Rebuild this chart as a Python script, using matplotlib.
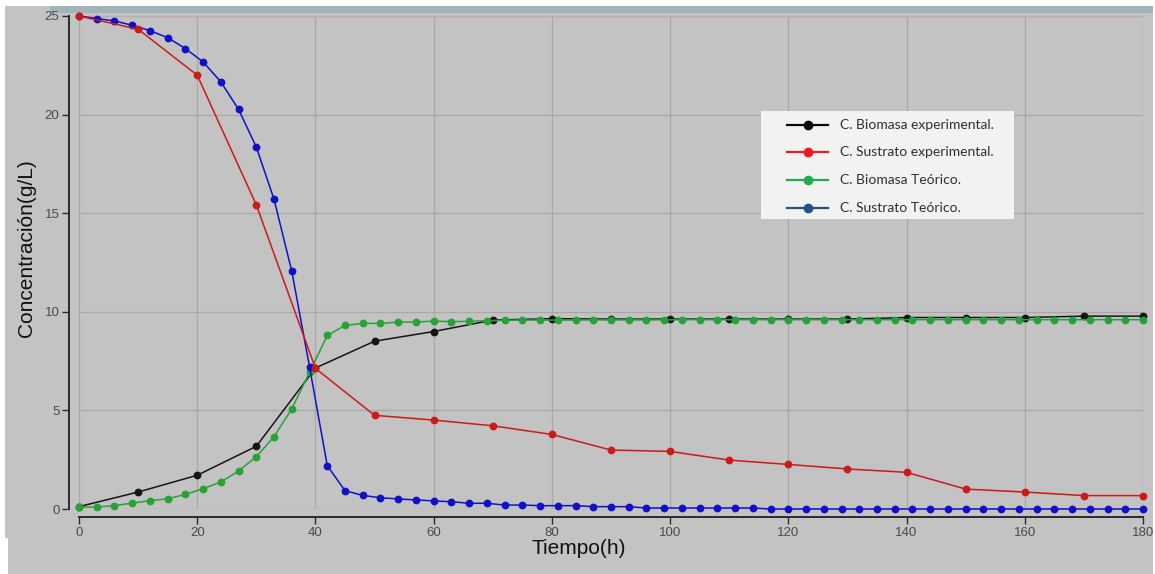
import matplotlib
matplotlib.use("Agg")
import matplotlib.pyplot as plt
from matplotlib.lines import Line2D
from matplotlib.patches import Rectangle

# experimental samples, every 10 h
t_exp = [0, 10, 20, 30, 40, 50, 60, 70, 80, 90, 100, 110, 120, 130, 140, 150, 160, 170, 180]
biomasa_exp = [0.12, 0.86, 1.71, 3.18, 7.15, 8.51, 9.0, 9.58, 9.65, 9.63, 9.63, 9.63, 9.63, 9.63,
               9.71, 9.71, 9.71, 9.78, 9.78]
sustrato_exp = [25.0, 24.33, 22.0, 15.42, 7.13, 4.75, 4.51, 4.22, 3.78, 2.99, 2.92, 2.48, 2.26, 2.03,
                1.86, 1.01, 0.86, 0.68, 0.68]

# model output, every 3 h
t_mod = list(range(0, 181, 3))
biomasa_mod = [0.10, 0.10, 0.17, 0.30, 0.42, 0.52, 0.74, 1.03, 1.37, 1.93, 2.65, 3.67, 5.08, 6.93,
               8.80, 9.31, 9.41, 9.41, 9.48, 9.48, 9.53, 9.50, 9.52, 9.55, 9.57, 9.58, 9.58, 9.58,
               9.58, 9.59, 9.59, 9.59, 9.59, 9.59, 9.60, 9.60, 9.60, 9.60, 9.60, 9.60, 9.60, 9.60,
               9.60, 9.60, 9.60, 9.60, 9.60, 9.60, 9.60, 9.60, 9.60, 9.60, 9.60, 9.60, 9.60, 9.60,
               9.60, 9.60, 9.60, 9.60, 9.60]
sustrato_mod = [25.0, 24.87, 24.75, 24.53, 24.26, 23.90, 23.35, 22.67, 21.66, 20.26, 18.35, 15.70,
                12.05, 7.21, 2.20, 0.93, 0.69, 0.57, 0.51, 0.46, 0.41, 0.37, 0.29, 0.29, 0.20,
                0.20, 0.17, 0.17, 0.17, 0.12, 0.12, 0.12, 0.05, 0.05, 0.05, 0.05, 0.05, 0.05, 0.05,
                0.0, 0.0, 0.0, 0.0, 0.0, 0.0, 0.0, 0.0, 0.0, 0.0, 0.0, 0.0, 0.0, 0.0, 0.0, 0.0,
                0.0, 0.0, 0.0, 0.0, 0.0, 0.0]

legend_labels = ["C. Biomasa experimental.", "C. Sustrato experimental.",
                 "C. Biomasa Teórico.", "C. Sustrato Teórico."]
legend_colors = ["#0a0a0a", "#f01818", "#1fae4f", "#245184"]

W, H = 1155, 574
BG = "#c3c3c3"

fig = plt.figure(figsize=(W / 100, H / 100), dpi=100)
fig.patch.set_facecolor("white")

# chart panel, its white notch bottom-left and the thin strip above it
fig.patches.append(Rectangle((5 / W, 0), 1148 / W, 1 - 6 / H, transform=fig.transFigure,
                             facecolor=BG, edgecolor="none", zorder=-2))
fig.patches.append(Rectangle((0, 0), 8 / W, 36 / H, transform=fig.transFigure,
                             facecolor="white", edgecolor="none", zorder=-1))
fig.patches.append(Rectangle((50 / W, 1 - 13 / H), 1103 / W, 7 / H, transform=fig.transFigure,
                             facecolor="#a2b3ba", edgecolor="none", zorder=-1))

ax = fig.add_axes([79 / W, 65 / H, 1064 / W, 493 / H])
ax.set_facecolor(BG)
ax.set_xlim(0, 180)
ax.set_ylim(0, 25)
ax.set_xticks(range(0, 181, 20))
ax.set_yticks(range(0, 26, 5))
ax.grid(True, color="#a8a8a8", linewidth=0.9)
ax.set_axisbelow(True)

for side in ("top", "right"):
    ax.spines[side].set_visible(False)
ax.spines["left"].set_position(("outward", 7))
ax.spines["bottom"].set_position(("outward", 6))
for side in ("left", "bottom"):
    ax.spines[side].set_color("#2a2a2a")
    ax.spines[side].set_linewidth(1.4)
ax.tick_params(direction="out", length=5, width=1, color="#2a2a2a",
               labelsize=9.5, labelcolor="#4a4a4a", pad=2)
for lab in ax.get_xticklabels() + ax.get_yticklabels():
    lab.set_family("Liberation Sans")

ax.axhline(25, color="#c7a9ab", linewidth=1.0, zorder=1)

common = dict(marker="o", markersize=4.6, linewidth=1.1, clip_on=False)
ax.plot(t_exp, biomasa_exp, color="#151515", zorder=3, **common)
ax.plot(t_mod, biomasa_mod, color="#26a236", zorder=4, **common)
ax.plot(t_mod, sustrato_mod, color="#1010c8", zorder=5, **common)
ax.plot(t_exp, sustrato_exp, color="#cc1a1a", zorder=6, **common)

fig.text(27 / W, 1 - 248 / H, "Concentración(g/L)", rotation=90, ha="center", va="center",
         fontsize=15, family="Liberation Sans", color="#111111")
fig.text(579 / W, 1 - 549 / H, "Tiempo(h)", ha="center", va="center",
         fontsize=15, family="Liberation Sans", color="#111111")

# legend box
fig.patches.append(Rectangle((761 / W, 1 - 219 / H), 253 / W, 108 / H, transform=fig.transFigure,
                             facecolor="#f2f2f2", edgecolor="none", zorder=5))
row_y = [125, 152, 180, 208]
for y, label, color in zip(row_y, legend_labels, legend_colors):
    yf = 1 - y / H
    fig.lines.append(Line2D([787 / W, 828 / W], [yf, yf], transform=fig.transFigure,
                            color=color, linewidth=1.6, zorder=6))
    fig.lines.append(Line2D([807.5 / W], [yf], transform=fig.transFigure, marker="o",
                            markersize=6, color=color, zorder=7))
    fig.text(840 / W, yf, label, ha="left", va="center", fontsize=10, family="Lato",
             color="#303030", zorder=7)

fig.savefig("out.png", dpi=100, facecolor=fig.get_facecolor())
